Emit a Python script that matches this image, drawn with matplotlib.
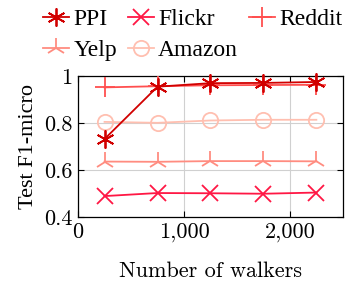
import numpy as np
import matplotlib
matplotlib.use("Agg")
import matplotlib.pyplot as plt
from matplotlib.ticker import FuncFormatter, FixedLocator

walkers = [250, 750, 1250, 1750, 2250]
ppi = [0.732, 0.955, 0.970, 0.971, 0.975]
flickr = [0.489, 0.502, 0.501, 0.499, 0.504]
reddit = [0.952, 0.957, 0.961, 0.962, 0.963]
yelp = [0.636, 0.635, 0.638, 0.638, 0.637]
amazon = [0.805, 0.801, 0.811, 0.814, 0.814]

plt.rcParams['font.family'] = 'serif'
plt.rcParams['font.serif'] = ['Liberation Serif', 'DejaVu Serif']

fig = plt.figure(figsize=(3.47, 2.84), dpi=100)
ax = fig.add_axes([0.225, 0.236, 0.763, 0.496])

series = [
    ('PPI', ppi, '#d10000', (6, 2, 0), 13, 5),
    ('Flickr', flickr, '#ff1744', 'x', 11, 3),
    ('Reddit', reddit, '#ff4f4f', '+', 14, 4),
    ('Yelp', yelp, '#ff8c80', '2', 15, 2),
    ('Amazon', amazon, '#ffbfb0', 'o', 11, 1),
]
handles = {}
for name, vals, col, mk, ms, z in series:
    ln, = ax.plot(walkers, vals, color=col, marker=mk, markersize=ms,
                  markerfacecolor='none', markeredgecolor=col, markeredgewidth=1.3,
                  linewidth=1.3, label=name, zorder=z, clip_on=False)
    handles[name] = ln

ax.set_xlim(0, 2500)
ax.set_ylim(0.4, 1.0)
ax.xaxis.set_major_locator(FixedLocator([0, 1000, 2000]))
ax.yaxis.set_major_locator(FixedLocator([0.4, 0.6, 0.8, 1.0]))
ax.xaxis.set_major_formatter(FuncFormatter(lambda v, p: '{:,}'.format(int(v))))
ax.yaxis.set_major_formatter(FuncFormatter(lambda v, p: '%g' % v))
ax.grid(True, color='#d0d0d0', linewidth=0.8, zorder=0)
ax.set_axisbelow(True)
ax.tick_params(direction='in', length=4, top=True, right=True, labelsize=16, pad=4)
for s in ax.spines.values():
    s.set_linewidth(0.9)
for lab in ax.get_xticklabels() + ax.get_yticklabels():
    lab.set_family('cmr10')

ax.set_xlabel('Number of walkers', fontsize=16, labelpad=14, family='cmr10')
ax.set_ylabel('Test F1-micro', fontsize=16, labelpad=4)

order = ['PPI', 'Yelp', 'Flickr', 'Amazon', 'Reddit']
fig.legend([handles[n] for n in order], order, ncol=3, loc='upper center',
           bbox_to_anchor=(0.555, 1.045), frameon=False, fontsize=17,
           handlelength=1.1, handletextpad=0.2, columnspacing=0.45,
           labelspacing=0.42, numpoints=1)

fig.savefig('out.png', dpi=100)
